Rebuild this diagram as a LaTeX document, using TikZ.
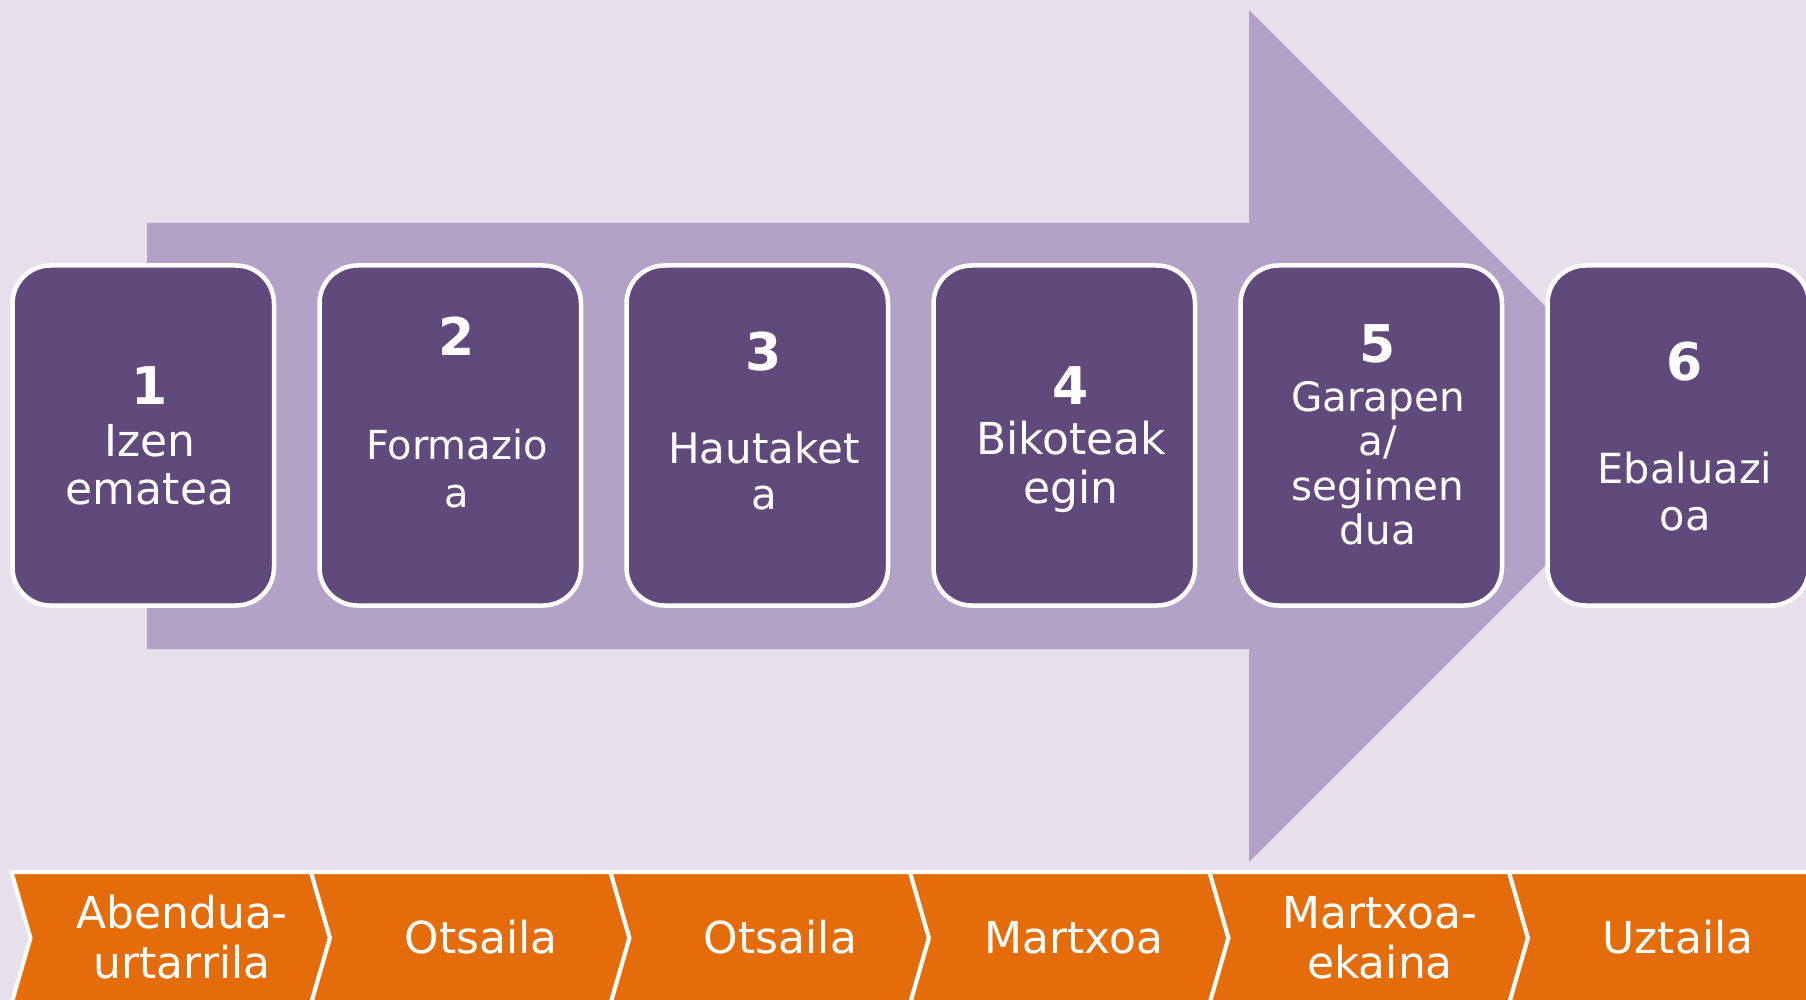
\documentclass[tikz,border=0pt]{standalone}
\usepackage{fontspec}
\setmainfont{DejaVu Sans}
\definecolor{bgpurple}{HTML}{E6E0EC}
\definecolor{arrowpurple}{HTML}{B3A2C7}
\definecolor{boxpurple}{HTML}{604A7B}
\definecolor{monthorange}{HTML}{E46C0A}
\tikzset{
  stepbox/.style={draw=white, line width=2.25pt, fill=boxpurple, rounded corners=19pt,
    minimum width=130.75pt, minimum height=170pt, inner sep=0pt},
  stepnum/.style={text=white, anchor=base, inner sep=0pt, font=\bfseries\fontsize{26}{30}\selectfont},
  steptext/.style={text=white, anchor=north, inner sep=0pt, align=center},
  monthshape/.style={draw=white, line width=2pt, fill=monthorange, line join=miter},
  monthtext/.style={text=white, inner sep=0pt, align=center, font=\fontsize{22}{25}\selectfont}
}
\begin{document}
\begin{tikzpicture}[x=0.5pt, y=-0.5pt]
  \useasboundingbox (0,0) rectangle (1806,1000);
  \clip (0,0) rectangle (1806,1000);
  \fill[bgpurple] (0,0) rectangle (1806,1000);
  % arrow behind the steps
  \fill[arrowpurple] (147,223) -- (1249,223) -- (1249,10) -- (1675,436) -- (1249,862) -- (1249,649) -- (147,649) -- cycle;
  % steps
  \node[stepbox] (box1) at (143.25,435.5) {};
  \node[stepbox] (box2) at (450.25,435.5) {};
  \node[stepbox] (box3) at (757.25,435.5) {};
  \node[stepbox] (box4) at (1064.25,435.5) {};
  \node[stepbox] (box5) at (1371.25,435.5) {};
  \node[stepbox] (box6) at (1678.25,435.5) {};
  \node[stepnum] (num1) at (150,405) {1};
  \node[stepnum] (num2) at (457,356) {2};
  \node[stepnum] (num3) at (764,371) {3};
  \node[stepnum] (num4) at (1071,405) {4};
  \node[stepnum] (num5) at (1378,363) {5};
  \node[stepnum] (num6) at (1685,380) {6};
  \node[steptext, font=\fontsize{22}{24}\selectfont] (lbl1) at (150,424) {Izen\\ematea};
  \node[steptext, font=\fontsize{20}{24}\selectfont] (lbl2) at (457,428.6) {Formazio\\a};
  \node[steptext, font=\fontsize{21}{23}\selectfont] (lbl3) at (764,431) {Hautaket\\a};
  \node[steptext, font=\fontsize{22}{24.5}\selectfont] (lbl4) at (1071,420.6) {Bikoteak\\egin};
  \node[steptext, font=\fontsize{20.25}{22.25}\selectfont] (lbl5) at (1378,381) {Garapen\\a/\\segimen\\dua};
  \node[steptext, font=\fontsize{20.75}{23.5}\selectfont] (lbl6) at (1685,451.5) {Ebaluazi\\oa};
  % months
  \filldraw[monthshape] (11.5,872) -- (311,872) -- (330,938) -- (311,1004) -- (11.5,1004) -- (30.5,938) -- cycle;
  \filldraw[monthshape] (311,872) -- (610.5,872) -- (629.5,938) -- (610.5,1004) -- (311,1004) -- (330,938) -- cycle;
  \filldraw[monthshape] (610.5,872) -- (910,872) -- (929,938) -- (910,1004) -- (610.5,1004) -- (629.5,938) -- cycle;
  \filldraw[monthshape] (910,872) -- (1209.5,872) -- (1228.5,938) -- (1209.5,1004) -- (910,1004) -- (929,938) -- cycle;
  \filldraw[monthshape] (1209.5,872) -- (1509,872) -- (1528,938) -- (1509,1004) -- (1209.5,1004) -- (1228.5,938) -- cycle;
  \filldraw[monthshape] (1509,872) -- (1808.5,872) -- (1827.5,938) -- (1808.5,1004) -- (1509,1004) -- (1528,938) -- cycle;
  \node[monthtext, anchor=north] (month1) at (182,894.6) {Abendua-\\urtarrila};
  \node[monthtext, anchor=base] (month2) at (481,953) {Otsaila};
  \node[monthtext, anchor=base] (month3) at (780.5,953) {Otsaila};
  \node[monthtext, anchor=base] (month4) at (1074,953) {Martxoa};
  \node[monthtext, anchor=north] (month5) at (1380,896) {Martxoa-\\ekaina};
  \node[monthtext, anchor=base] (month6) at (1678,953) {Uztaila};
\end{tikzpicture}
\end{document}
